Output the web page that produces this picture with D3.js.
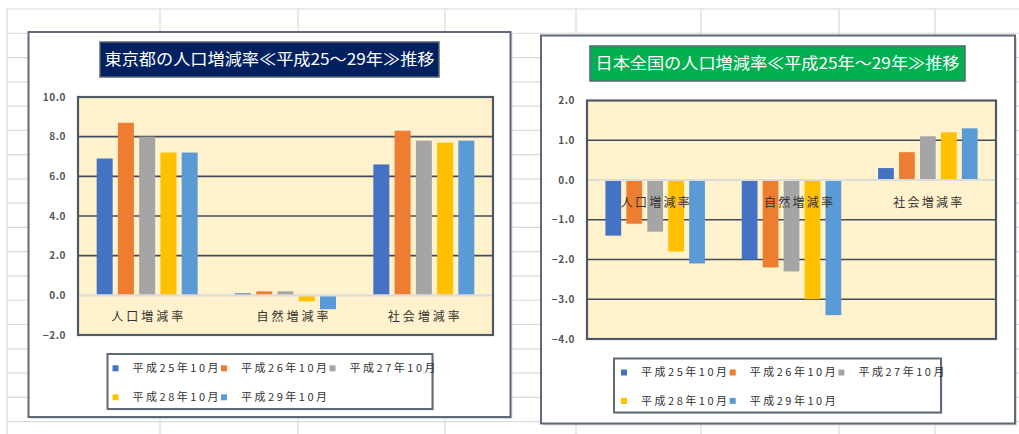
<!DOCTYPE html>
<html lang="ja">
<head>
<meta charset="utf-8">
<title>人口増減率の推移</title>
<script src="https://cdn.jsdelivr.net/npm/d3@7"></script>
<style>
  html, body { margin: 0; padding: 0; background: #ffffff; }
  svg { display: block; }
  text { font-family: "Noto Sans CJK JP", "Noto Sans", sans-serif; }
</style>
</head>
<body>
<svg id="sheet" width="1019" height="434"></svg>
<script>
// ---- data -------------------------------------------------------------
const categories = ["人口増減率", "自然増減率", "社会増減率"];
const seriesNames = ["平成25年10月", "平成26年10月", "平成27年10月", "平成28年10月", "平成29年10月"];
const seriesColors = ["#4472C4", "#ED7D31", "#A5A5A5", "#FFC000", "#5B9BD5"];

// 東京都 (per category, H25..H29)
const tokyoPopulation = [6.9, 8.7, 8.0, 7.2, 7.2];
const tokyoNatural    = [0.1, 0.2, 0.2, -0.3, -0.7];
const tokyoSocial     = [6.6, 8.3, 7.8, 7.7, 7.8];
const tokyoTicks      = [-2, 0, 2, 4, 6, 8, 10];

// 日本全国 (per category, H25..H29)
const japanPopulation = [-1.4, -1.1, -1.3, -1.8, -2.1];
const japanNatural    = [-2.0, -2.2, -2.3, -3.0, -3.4];
const japanSocial     = [0.3, 0.7, 1.1, 1.2, 1.3];
const japanTicks      = [-4, -3, -2, -1, 0, 1, 2];

const tokyoTitle = "東京都の人口増減率≪平成25～29年≫推移";
const japanTitle = "日本全国の人口増減率≪平成25年～29年≫推移";

// ---- sheet background (spreadsheet cells) -----------------------------
const svg = d3.select("#sheet");
const columnEdges = [7, 160, 298, 445, 576, 701, 839, 935];
const rowTop = 9, rowStep = 24.27;
const grid = svg.append("g").attr("stroke", "#dadada").attr("stroke-width", 1.2);
d3.range(0, 18).forEach(k => {
  const y = rowTop + k * rowStep;
  grid.append("line").attr("x1", 7).attr("x2", 1019).attr("y1", y).attr("y2", y);
});
columnEdges.forEach(x => {
  grid.append("line").attr("x1", x).attr("x2", x).attr("y1", rowTop).attr("y2", 434);
});

// ---- chart drawing ------------------------------------------------------
function drawChart(cfg) {
  const g = svg.append("g");
  const rows = categories.map((c, i) => ({ category: c, values: cfg.values[i] }));

  // frame with soft shadow
  g.append("rect")
    .attr("x", cfg.box.x + 2).attr("y", cfg.box.y + 2)
    .attr("width", cfg.box.w).attr("height", cfg.box.h)
    .attr("fill", "#b8bcc2").attr("opacity", 0.55);
  g.append("rect")
    .attr("x", cfg.box.x).attr("y", cfg.box.y)
    .attr("width", cfg.box.w).attr("height", cfg.box.h)
    .attr("fill", "#ffffff").attr("stroke", "#5f6977").attr("stroke-width", 2);

  // title banner
  g.append("rect")
    .attr("x", cfg.title.x).attr("y", cfg.title.y)
    .attr("width", cfg.title.w).attr("height", cfg.title.h)
    .attr("fill", cfg.title.fill).attr("stroke", "#5a6470").attr("stroke-width", 1.5);
  g.append("text")
    .attr("x", cfg.title.x + cfg.title.w / 2)
    .attr("y", cfg.title.y + cfg.title.h / 2)
    .attr("dy", "0.36em")
    .attr("text-anchor", "middle")
    .attr("font-size", 16)
    .attr("fill", "#ffffff")
    .attr("textLength", cfg.title.textLen)
    .attr("lengthAdjust", "spacingAndGlyphs")
    .text(cfg.title.text);

  // scales
  const p = cfg.plot;
  const x0 = d3.scaleBand().domain(categories)
    .range([p.x, p.x + p.w]).paddingInner(0.27).paddingOuter(0.135);
  const x1 = d3.scaleBand().domain(d3.range(seriesNames.length))
    .range([0, x0.bandwidth()]).paddingInner(0.247).paddingOuter(0);
  const y = d3.scaleLinear().domain(cfg.domain).range([p.y + p.h, p.y]);

  // plot area
  g.append("rect")
    .attr("x", p.x).attr("y", p.y).attr("width", p.w).attr("height", p.h)
    .attr("fill", "#FFF2CC");

  // gridlines
  g.append("g")
    .selectAll("line")
    .data(cfg.ticks.filter(t => t !== 0 && t !== cfg.domain[0] && t !== cfg.domain[1]))
    .join("line")
    .attr("x1", p.x).attr("x2", p.x + p.w)
    .attr("y1", d => y(d)).attr("y2", d => y(d))
    .attr("stroke", "#414b59").attr("stroke-width", 1.7);

  // y axis labels
  const axis = d3.axisLeft(y).tickValues(cfg.ticks).tickFormat(d3.format(".1f"))
    .tickSize(0).tickPadding(12);
  const ag = g.append("g").attr("transform", `translate(${p.x},0)`).call(axis);
  ag.select(".domain").remove();
  ag.selectAll("text")
    .attr("font-family", "'Noto Sans', sans-serif")
    .attr("font-size", 10)
    .attr("font-weight", "bold")
    .attr("letter-spacing", 0.6)
    .attr("fill", "#555555");

  // bars
  g.append("g")
    .selectAll("g")
    .data(rows)
    .join("g")
    .attr("transform", d => `translate(${x0(d.category)},0)`)
    .selectAll("rect")
    .data(d => d.values.map((v, i) => ({ v, i })))
    .join("rect")
    .attr("x", d => x1(d.i))
    .attr("width", x1.bandwidth())
    .attr("y", d => y(Math.max(0, d.v)))
    .attr("height", d => Math.abs(y(d.v) - y(0)))
    .attr("fill", d => seriesColors[d.i]);

  // zero line
  g.append("line")
    .attr("x1", p.x).attr("x2", p.x + p.w)
    .attr("y1", y(0)).attr("y2", y(0))
    .attr("stroke", "#dcdcdc").attr("stroke-width", 2.2);

  // plot border
  g.append("rect")
    .attr("x", p.x).attr("y", p.y).attr("width", p.w).attr("height", p.h)
    .attr("fill", "none").attr("stroke", "#4f5865").attr("stroke-width", 2.2);

  // category labels (the middle one sits a little right of its group)
  g.append("g")
    .selectAll("text")
    .data(categories)
    .join("text")
    .attr("x", (d, i) => x0(d) + x0.bandwidth() / 2 + (i === 1 ? 7 : 0))
    .attr("y", cfg.labelY)
    .attr("dy", "0.36em")
    .attr("text-anchor", "middle")
    .attr("font-size", 12)
    .attr("fill", "#333333")
    .attr("textLength", cfg.labelLen)
    .attr("lengthAdjust", "spacing")
    .text(d => d);

  // legend
  const L = cfg.legend;
  const lg = g.append("g");
  lg.append("rect")
    .attr("x", L.x + 1.5).attr("y", L.y + 1.5).attr("width", L.w).attr("height", L.h)
    .attr("fill", "#c5c8cc").attr("opacity", 0.6);
  lg.append("rect")
    .attr("x", L.x).attr("y", L.y).attr("width", L.w).attr("height", L.h)
    .attr("fill", "#ffffff").attr("stroke", "#5f6977").attr("stroke-width", 2);
  const items = lg.selectAll("g.item")
    .data(seriesNames)
    .join("g")
    .attr("class", "item")
    .attr("transform", (d, i) =>
      `translate(${L.x + L.markerDx + (i % 3) * L.step},${L.y + (i < 3 ? L.row1 : L.row2)})`);
  items.append("rect")
    .attr("x", -3).attr("y", -3).attr("width", 6).attr("height", 6)
    .attr("fill", (d, i) => seriesColors[i]);
  items.append("text")
    .attr("x", L.textDx)
    .attr("dy", "0.36em")
    .attr("font-size", 11)
    .attr("fill", "#333333")
    .attr("textLength", 86)
    .attr("lengthAdjust", "spacing")
    .text(d => d);
}

drawChart({
  values: [tokyoPopulation, tokyoNatural, tokyoSocial],
  ticks: tokyoTicks,
  domain: [-2, 10],
  box: { x: 28.5, y: 32, w: 482, h: 385 },
  title: { x: 100, y: 42, w: 339, h: 35, fill: "#002060", text: tokyoTitle, textLen: 330 },
  plot: { x: 78, y: 97, w: 415, h: 238 },
  labelY: 317,
  labelLen: 72,
  legend: { x: 107.5, y: 354, w: 325, h: 55, markerDx: 8, textDx: 17, step: 108.5, row1: 14.3, row2: 43.3 }
});

drawChart({
  values: [japanPopulation, japanNatural, japanSocial],
  ticks: japanTicks,
  domain: [-4, 2],
  box: { x: 541, y: 35.5, w: 474, h: 388 },
  title: { x: 590, y: 46, w: 375, h: 35, fill: "#00B050", text: japanTitle, textLen: 364 },
  plot: { x: 587, y: 100.5, w: 409, h: 238.5 },
  labelY: 203,
  labelLen: 69,
  legend: { x: 614, y: 358.5, w: 327, h: 54, markerDx: 10, textDx: 17, step: 108.7, row1: 14, row2: 42.4 }
});
</script>
</body>
</html>
